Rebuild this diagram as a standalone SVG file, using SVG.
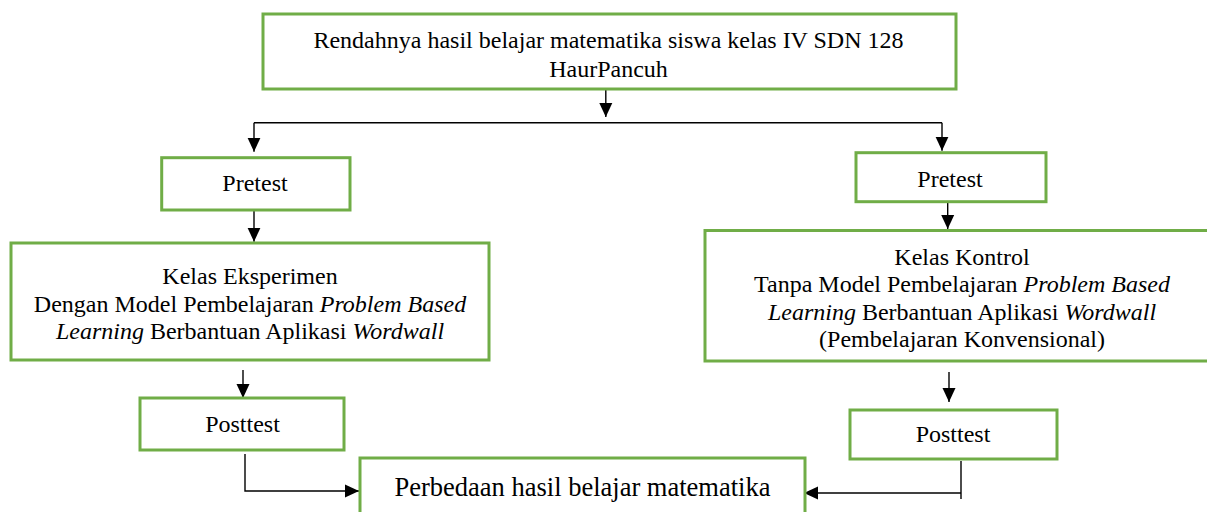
<svg xmlns="http://www.w3.org/2000/svg" width="1207" height="512" viewBox="0 0 1207 512">
  <defs>
    <style>
      .box { fill: #ffffff; stroke: #70AD47; stroke-width: 3; }
      .lbl { font-family: "Liberation Serif", "Times New Roman", serif; font-size: 24px; fill: #000000; text-anchor: middle; }
      .big { font-size: 26.5px; }
      .it { font-style: italic; }
      .con { fill: none; stroke: #000000; stroke-width: 1.4; }
      .arr { marker-end: url(#ah); }
    </style>
    <marker id="ah" viewBox="0 0 14 14" refX="14" refY="7" markerWidth="14" markerHeight="14" markerUnits="userSpaceOnUse" orient="auto">
      <path d="M0,0.5 L14,7 L0,13.5 Z" fill="#000000"/>
    </marker>
  </defs>
  <rect width="1207" height="512" fill="#ffffff"/>

  <g id="connectors">
    <path class="con arr" d="M605.8 89 V117"/>
    <path class="con" d="M254 122.7 H942"/>
    <path class="con arr" d="M254 122.7 V151.7"/>
    <path class="con arr" d="M942 122.7 V150.7"/>
    <path class="con arr" d="M254 210 V241.7"/>
    <path class="con arr" d="M947.7 202 V229"/>
    <path class="con arr" d="M243 370 V398"/>
    <path class="con arr" d="M949 372 V402"/>
    <path class="con arr" d="M245 454 V491 H359"/>
    <path class="con" d="M961 461 V499"/>
    <path class="con arr" d="M961 493 H804"/>
  </g>

  <g id="node-top">
    <rect class="box" x="263" y="14" width="693" height="75"/>
    <text class="lbl" x="608.5" y="48">Rendahnya hasil belajar matematika siswa kelas IV SDN 128</text>
    <text class="lbl" x="608.5" y="77">HaurPancuh</text>
  </g>

  <g id="node-pretest-left">
    <rect class="box" x="161.7" y="157.7" width="188.3" height="52.3"/>
    <text class="lbl" x="255" y="191">Pretest</text>
  </g>

  <g id="node-pretest-right">
    <rect class="box" x="856" y="152.7" width="190" height="49"/>
    <text class="lbl" x="950" y="186.7">Pretest</text>
  </g>

  <g id="node-eksperimen">
    <rect class="box" x="11" y="243" width="478" height="117"/>
    <text class="lbl" x="250" y="284">Kelas Eksperimen</text>
    <text class="lbl" x="250" y="311.5">Dengan Model Pembelajaran <tspan class="it">Problem Based</tspan></text>
    <text class="lbl" x="250" y="339"><tspan class="it">Learning</tspan> Berbantuan Aplikasi <tspan class="it">Wordwall</tspan></text>
  </g>

  <g id="node-kontrol">
    <rect class="box" x="705" y="230.5" width="512" height="130.5"/>
    <text class="lbl" x="962" y="264.5">Kelas Kontrol</text>
    <text class="lbl" x="962" y="292">Tanpa Model Pembelajaran <tspan class="it">Problem Based</tspan></text>
    <text class="lbl" x="962" y="319.5"><tspan class="it">Learning</tspan> Berbantuan Aplikasi <tspan class="it">Wordwall</tspan></text>
    <text class="lbl" x="962" y="347">(Pembelajaran Konvensional)</text>
  </g>

  <g id="node-posttest-left">
    <rect class="box" x="140" y="398" width="204" height="52"/>
    <text class="lbl" x="242.5" y="431.5">Posttest</text>
  </g>

  <g id="node-posttest-right">
    <rect class="box" x="850" y="410" width="207" height="49"/>
    <text class="lbl" x="953" y="442">Posttest</text>
  </g>

  <g id="node-perbedaan">
    <rect class="box" x="360" y="458" width="445" height="70"/>
    <text class="lbl big" x="582.5" y="496">Perbedaan hasil belajar matematika</text>
  </g>
</svg>
